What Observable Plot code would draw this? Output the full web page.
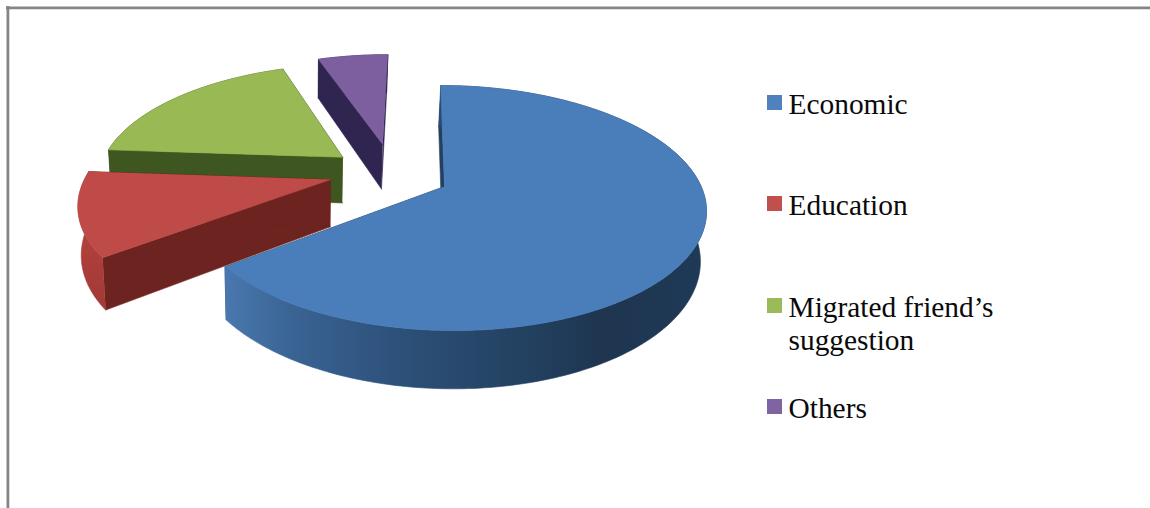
<!DOCTYPE html>
<html>
<head>
<meta charset="utf-8">
<style>
  html, body { margin: 0; padding: 0; background: #fff; }
  svg { display: block; }
</style>
<script src="https://cdn.jsdelivr.net/npm/d3@7"></script>
<script src="https://cdn.jsdelivr.net/npm/@observablehq/plot@0.6"></script>
</head>
<body>
<div id="chart"></div>
<script>
// Reasons for migrating, share of respondents (%)
const categories = ["Economic", "Education", "Migrated friend’s suggestion", "Others"];
const shares = [64.5, 11.5, 18.5, 5.5];
const legendLabels = ["Economic", "Education", "Migrated friend’s\nsuggestion", "Others"];
const swatchColors = ["#4f81bd", "#c0504d", "#9bbb59", "#8064a2"];
const topColors = ["#4a7ebb", "#be4b48", "#98b954", "#7d5fa0"];
const wallColors = ["#23405f", "#6d231f", "#3e5620", "#2f2550"];
const outerWalls = ["url(#economicWall)", "url(#educationWall)", wallColors[2], wallColors[3]];

// Camera for the tilted disc: maps disc coordinates to page pixels.
const camera = {
  cx: 444, cy: 186, k: 254, m: 118.7, p: 0.1756, q: -0.015, roll: 3,
  depth: 48, explode: 0.245, rotation: -1 * Math.PI / 180
};
function project(X, Y, z) {
  const w = 1 + camera.p * Y + camera.q * X;
  const x = camera.cx + camera.k * X / w;
  return {
    x: 300 + (x - 300) * (1 - 0.015 * z),
    y: camera.cy + camera.roll * X + (z * camera.depth - camera.m * Y) / w
  };
}

// Slice angles run clockwise from just left of twelve o'clock.
const arcs = d3.pie().sort(null).startAngle(camera.rotation).endAngle(camera.rotation + 2 * Math.PI)(shares);
const unit = (a) => [Math.sin(a), Math.cos(a)];
const midOf = (arc) => (arc.startAngle + arc.endAngle) / 2;
const anchor = unit(midOf(arcs[0]));
// Small per-slice adjustments to how far each slice is pulled out.
const pull = [[0, 0], [0, 0.02], [0, 0], [0.008, 0.03]];

// Polygons are pushed back to front, so nearer faces paint over farther ones.
const polygons = [];
function addPolygon(points, fill) {
  const id = polygons.length ? polygons[polygons.length - 1].id + 1 : 0;
  points.forEach((p) => polygons.push({id, x: p.x, y: p.y, fill}));
}

for (const i of [3, 2, 1, 0]) {
  const arc = arcs[i];
  const dir = unit(midOf(arc));
  const ax = camera.explode * (dir[0] - anchor[0]) + pull[i][0];
  const ay = camera.explode * (dir[1] - anchor[1]) + pull[i][1];
  const rimPoint = (a, z) => {
    const [ux, uy] = unit(a);
    return project(ax + ux, ay + uy, z);
  };
  const apex = (z) => project(ax, ay, z);
  const step = Math.PI / 180;
  const angles = d3.range(arc.startAngle, arc.endAngle, step).concat(arc.endAngle);

  // Radial side walls
  for (const a of [arc.startAngle, arc.endAngle]) {
    addPolygon([apex(0), rimPoint(a, 0), rimPoint(a, 1), apex(1)], wallColors[i]);
  }

  // Curved outer wall
  addPolygon([
    ...angles.map((a) => rimPoint(a, 0)),
    ...angles.slice().reverse().map((a) => rimPoint(a, 1))
  ], outerWalls[i]);

  // Top face
  addPolygon([apex(0), ...angles.map((a) => rimPoint(a, 0))], topColors[i]);
}

// Legend rows, listed top to bottom
const legendRowTops = [95, 196, 298, 399];
const legendRows = categories.map((name, i) => ({
  name,
  label: legendLabels[i],
  color: swatchColors[i],
  top: legendRowTops[i]
}));

const chart = Plot.plot({
  width: 1150,
  height: 508,
  marginTop: 54,
  marginRight: 0,
  marginBottom: 0,
  marginLeft: 0,
  x: {domain: [0, 1150], axis: null},
  y: {domain: [508, 54], axis: null},
  color: {type: "identity"},
  style: {background: "#fff"},
  marks: [
    Plot.line(polygons, {
      x: "x", y: "y", z: "id",
      fill: "fill", stroke: "fill", strokeWidth: 0.6,
      curve: "linear", clip: true
    }),
    // Chart frame: top and left edges
    Plot.ruleY([7.4], {x1: 6, x2: 1150, stroke: "#858585", strokeWidth: 2.8}),
    Plot.ruleX([7.4], {y1: 6, y2: 508, stroke: "#858585", strokeWidth: 2.8}),
    // Legend
    Plot.rect(legendRows, {
      x1: () => 767, x2: () => 782,
      y1: "top", y2: (d) => d.top + 15,
      fill: "color"
    }),
    Plot.text(legendRows, {
      x: () => 788,
      y: (d) => d.top + 8.5,
      text: "label",
      textAnchor: "start",
      lineAnchor: "top",
      dy: -13,
      lineHeight: 1.12,
      fontFamily: "Liberation Serif",
      fontSize: 29.4,
      fill: "#0a0a0a"
    })
  ]
});

// Shading for the curved walls of the two front slices
const defs = d3.select(chart).insert("defs", ":first-child");
function addGradient(id, from, to, stops) {
  const gradient = defs.append("linearGradient")
    .attr("id", id)
    .attr("gradientUnits", "userSpaceOnUse")
    .attr("x1", from[0]).attr("y1", from[1])
    .attr("x2", to[0]).attr("y2", to[1]);
  stops.forEach(([offset, color]) => {
    gradient.append("stop").attr("offset", offset).attr("stop-color", color);
  });
}
addGradient("economicWall", [222, 0], [706, 0], [
  [0, "#4a79b0"], [0.14, "#3a6494"], [0.225, "#355c8a"], [0.37, "#2d5079"],
  [0.64, "#22405f"], [0.785, "#1f3550"], [1, "#1e3a57"]
]);
addGradient("educationWall", [0, 190], [0, 300], [[0, "#bb4541"], [1, "#a33a36"]]);

document.getElementById("chart").append(chart);
</script>
</body>
</html>
